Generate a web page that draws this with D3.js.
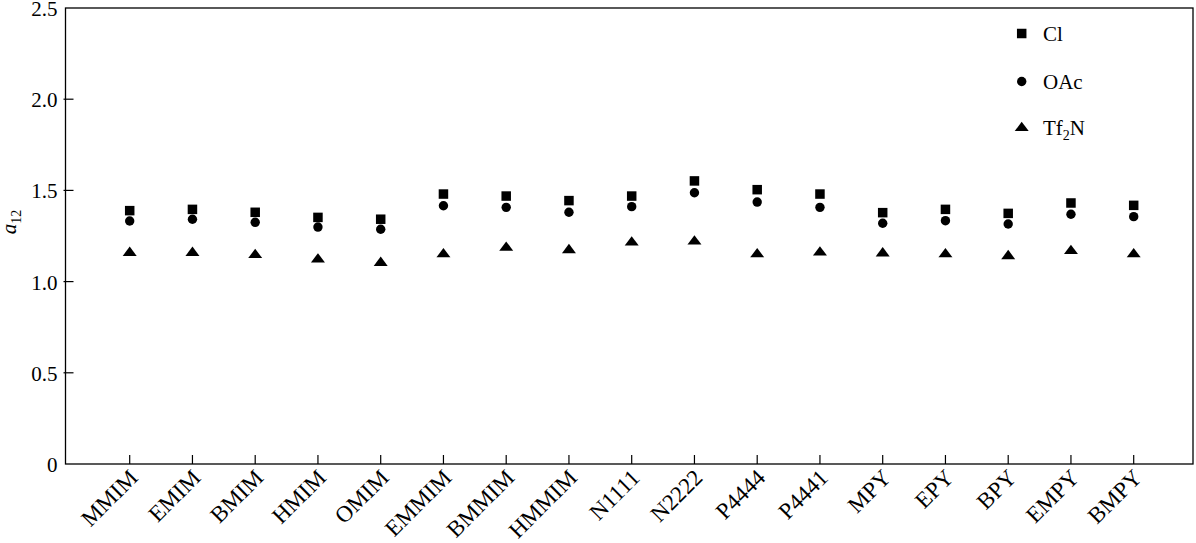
<!DOCTYPE html>
<html>
<head>
<meta charset="utf-8">
<script src="https://cdn.jsdelivr.net/npm/d3@7"></script>
<style>
  html, body { margin: 0; padding: 0; background: #fff; }
  svg text { font-family: "Liberation Serif", "Times New Roman", serif; fill: #000; }
</style>
</head>
<body>
<svg id="chart" width="1196" height="543"></svg>
<script>
const categories = ["MMIM","EMIM","BMIM","HMIM","OMIM","EMMIM","BMMIM","HMMIM","N1111","N2222","P4444","P4441","MPY","EPY","BPY","EMPY","BMPY"];
const clValues   = [1.389,1.396,1.380,1.352,1.342,1.480,1.469,1.444,1.469,1.552,1.504,1.480,1.378,1.396,1.374,1.431,1.418];
const oacValues  = [1.332,1.342,1.325,1.299,1.287,1.416,1.407,1.380,1.411,1.487,1.436,1.407,1.320,1.334,1.316,1.369,1.356];
const tf2nValues = [1.158,1.158,1.146,1.122,1.103,1.150,1.186,1.173,1.215,1.220,1.150,1.160,1.155,1.150,1.140,1.168,1.150];
const yTicks = [0, 0.5, 1.0, 1.5, 2.0, 2.5];
const yTickLabels = ["0", "0.5", "1.0", "1.5", "2.0", "2.5"];
const seriesNames = ["Cl", "OAc", "Tf2N"];

(function () {
const svg = d3.select("#chart");
const pLeft = 65.5, pRight = 1193, pTop = 8, pBottom = 464;

const x = d3.scalePoint().domain(categories).range([129.7, 1133.7]);
const y = d3.scaleLinear().domain([0, 2.5]).range([pBottom, pTop]);

// frame
svg.append("rect").attr("x", pLeft).attr("y", pTop).attr("width", pRight - pLeft).attr("height", pBottom - pTop)
  .attr("fill", "none").attr("stroke", "#000").attr("stroke-width", 1.3);

// y axis
const yAxis = d3.axisLeft(y).tickValues(yTicks).tickFormat((d, i) => yTickLabels[i]).tickSize(0).tickPadding(8);
const gy = svg.append("g").attr("transform", `translate(${pLeft},0)`).call(yAxis);
gy.select(".domain").remove();
gy.selectAll("text").attr("font-size", 21).attr("dy", "0.36em").style("font-family", "Liberation Serif");
svg.append("g").selectAll("line").data(yTicks.filter(d => d > 0 && d < 2.5)).join("line")
  .attr("x1", pLeft - 2).attr("x2", pLeft + 8).attr("y1", d => y(d)).attr("y2", d => y(d))
  .attr("stroke", "#000").attr("stroke-width", 1.2);

// x axis
const xAxis = d3.axisBottom(x).tickSize(0).tickPadding(0);
const gx = svg.append("g").attr("transform", `translate(0,${pBottom})`).call(xAxis);
gx.select(".domain").remove();
gx.selectAll("text")
  .attr("font-size", 23)
  .style("font-family", "Liberation Serif")
  .attr("text-anchor", "end")
  .attr("dy", null)
  .attr("y", 0)
  .attr("transform", "translate(9,15) rotate(-45)");
svg.append("g").selectAll("line").data(categories).join("line")
  .attr("x1", d => x(d)).attr("x2", d => x(d)).attr("y1", pBottom).attr("y2", pBottom - 9)
  .attr("stroke", "#000").attr("stroke-width", 1.2);

// y label
const yl = svg.append("text").attr("transform", "translate(16,222) rotate(-90)").attr("text-anchor", "middle").attr("font-size", 21);
yl.append("tspan").attr("font-style", "italic").text("a");
yl.append("tspan").attr("font-size", 14).attr("dy", 5).text("12");

// markers
const sq = 9.5, cr = 4.7;
const triPath = d3.symbol().type(d3.symbolTriangle).size(50);
const gData = svg.append("g");
gData.selectAll("rect.cl").data(categories).join("rect").attr("class", "cl")
  .attr("x", d => x(d) - sq / 2).attr("y", (d, i) => y(clValues[i]) - sq / 2)
  .attr("width", sq).attr("height", sq).attr("fill", "#000");
gData.selectAll("circle.oac").data(categories).join("circle").attr("class", "oac")
  .attr("cx", d => x(d)).attr("cy", (d, i) => y(oacValues[i])).attr("r", cr).attr("fill", "#000");
gData.selectAll("path.tf").data(categories).join("path").attr("class", "tf")
  .attr("d", triPath).attr("transform", (d, i) => `translate(${x(d)},${y(tf2nValues[i])}) scale(1.3,1)`).attr("fill", "#000");

// legend
const lg = svg.append("g");
const lx = 1021.7, lys = [33.5, 81.5, 128];
lg.append("rect").attr("x", lx - sq / 2).attr("y", lys[0] - sq / 2).attr("width", sq).attr("height", sq).attr("fill", "#000");
lg.append("circle").attr("cx", lx).attr("cy", lys[1]).attr("r", cr).attr("fill", "#000");
lg.append("path").attr("d", triPath).attr("transform", `translate(${lx},${lys[2]}) scale(1.3,1)`).attr("fill", "#000");
lg.append("text").attr("x", 1043).attr("y", lys[0] + 7).attr("font-size", 21).text(seriesNames[0]);
lg.append("text").attr("x", 1043).attr("y", lys[1] + 7).attr("font-size", 21).text(seriesNames[1]);
const t3 = lg.append("text").attr("x", 1043).attr("y", lys[2] + 7).attr("font-size", 21);
t3.append("tspan").text("Tf");
t3.append("tspan").attr("font-size", 14).attr("dy", 5).text("2");
t3.append("tspan").attr("dy", -5).text("N");
})();
</script>
</body>
</html>
